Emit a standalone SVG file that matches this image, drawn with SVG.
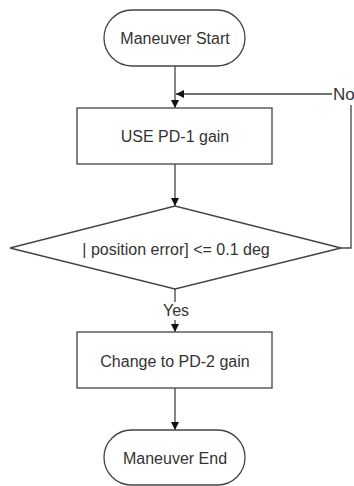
<svg xmlns="http://www.w3.org/2000/svg" width="354" height="486" viewBox="0 0 354 486">
<defs>
<style>
.shape{fill:#fff;stroke:#444;stroke-width:1.3}
.line{fill:none;stroke:#444;stroke-width:1.3}
.txt{font-family:"Liberation Sans",Arial,sans-serif;font-size:16px;fill:#333;text-anchor:middle;dominant-baseline:central}
</style>
<marker id="arr" viewBox="0 0 10 10" refX="10" refY="5" markerWidth="8" markerHeight="8" markerUnits="userSpaceOnUse" orient="auto">
<path d="M0,0 L10,5 L0,10 Z" fill="#111"/>
</marker>
</defs>
<rect width="354" height="486" fill="#fff"/>
<g id="connectors">
<line class="line" x1="175" y1="66" x2="175" y2="108" marker-end="url(#arr)"/>
<line class="line" x1="175" y1="164" x2="175" y2="206" marker-end="url(#arr)"/>
<polyline class="line" points="341,248 351,248 351,105"/>
<line class="line" x1="332" y1="94" x2="176" y2="94" marker-end="url(#arr)"/>
<line class="line" x1="175" y1="289" x2="175" y2="302"/>
<line class="line" x1="175" y1="320" x2="175" y2="332" marker-end="url(#arr)"/>
<line class="line" x1="175" y1="388" x2="175" y2="430" marker-end="url(#arr)"/>
<text class="txt" x="333" y="94" style="text-anchor:start;font-size:17px">No</text>
<text class="txt" x="176" y="310">Yes</text>
</g>
<g id="start">
<rect class="shape" x="104" y="10" width="141" height="56" rx="28" ry="28"/>
<text class="txt" x="175" y="38">Maneuver Start</text>
</g>
<g id="pd1">
<rect class="shape" x="77" y="108" width="195" height="56"/>
<text class="txt" x="175" y="136">USE PD-1 gain</text>
</g>
<g id="decision">
<polygon class="shape" points="10,248 175,206 341,248 175,289"/>
<text class="txt" x="176" y="249">| position error] &lt;= 0.1 deg</text>
</g>
<g id="pd2">
<rect class="shape" x="77" y="332" width="195" height="56"/>
<text class="txt" x="175" y="361">Change to PD-2 gain</text>
</g>
<g id="end">
<rect class="shape" x="104" y="430" width="141" height="55" rx="27.5" ry="27.5"/>
<text class="txt" x="175" y="458">Maneuver End</text>
</g>
</svg>
